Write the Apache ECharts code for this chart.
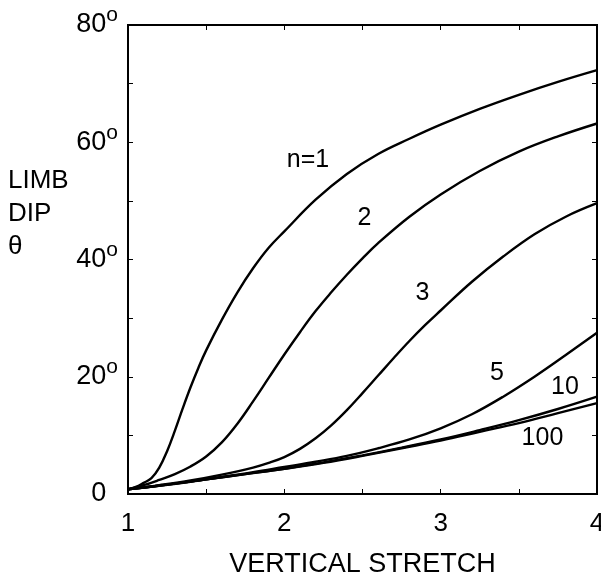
<!DOCTYPE html>
<html>
<head>
<meta charset="utf-8">
<script src="https://cdn.jsdelivr.net/npm/echarts@6/dist/echarts.min.js"></script>
<style>
html,body{margin:0;padding:0;background:#fff;}
#c{width:601px;height:573px;}
</style>
</head>
<body>
<div id="c"></div>
<script>
// Vertical stretch values and limb dip (degrees) for each n
const n1 = [[1.0,0.8],[1.05,1.2],[1.1,1.9],[1.15,2.7],[1.2,4.5],[1.25,7.3],[1.3,10.8],[1.35,14.6],[1.4,18.2],[1.45,21.5],[1.5,24.5],[1.6,29.7],[1.7,34.4],[1.8,38.5],[1.9,42.0],[2.0,44.8],[2.2,50.2],[2.4,54.6],[2.6,58.0],[2.8,60.6],[3.0,63.0],[3.25,65.7],[3.5,68.1],[3.75,70.3],[4.0,72.3]];
const n2 = [[1.0,0.8],[1.1,1.5],[1.2,2.4],[1.3,3.4],[1.4,4.7],[1.5,6.4],[1.6,8.8],[1.7,12.0],[1.8,15.8],[1.9,19.8],[2.0,23.8],[2.1,27.6],[2.2,31.2],[2.3,34.4],[2.4,37.4],[2.5,40.2],[2.6,42.8],[2.8,47.3],[3.0,51.1],[3.25,55.1],[3.5,58.4],[3.75,61.0],[4.0,63.2]];
const n3 = [[1.0,0.8],[1.2,1.5],[1.4,2.3],[1.6,3.3],[1.8,4.5],[1.9,5.3],[2.0,6.3],[2.1,7.7],[2.2,9.5],[2.3,11.7],[2.4,14.3],[2.5,17.2],[2.6,20.2],[2.7,23.2],[2.8,26.1],[2.9,28.8],[3.0,31.3],[3.2,36.2],[3.4,40.5],[3.6,44.3],[3.8,47.3],[4.0,49.6]];
const n5 = [[1.0,0.8],[1.2,1.4],[1.4,2.1],[1.6,2.9],[1.8,3.7],[2.0,4.6],[2.2,5.5],[2.4,6.5],[2.6,7.8],[2.8,9.3],[3.0,11.2],[3.2,13.6],[3.4,16.6],[3.6,20.0],[3.8,23.7],[4.0,27.5]];
const n10 = [[1.0,0.8],[1.25,1.6],[1.5,2.5],[1.75,3.4],[2.0,4.3],[2.25,5.4],[2.5,6.6],[2.75,7.9],[3.0,9.3],[3.25,10.9],[3.5,12.6],[3.75,14.5],[4.0,16.6]];
const n100 = [[1.0,0.8],[1.25,1.6],[1.5,2.5],[1.75,3.4],[2.0,4.3],[2.25,5.3],[2.5,6.5],[2.75,7.8],[3.0,9.1],[3.25,10.6],[3.5,12.1],[3.75,13.8],[4.0,15.5]];
const curveLabels = [["n=1",2.151,57.0],["2",2.513,47.0],["3",2.884,34.2],["5",3.360,20.6],["10",3.795,18.3],["100",3.651,9.6]];
const xTickLabels = {1:"1",2:"2",3:"3",4:"4"};
const yTickLabels = {0:"0",20:"20",40:"40",60:"60",80:"80"};

const FONT = "Liberation Sans, Arial, sans-serif";
const chart = echarts.init(document.getElementById('c'), null, {renderer:'canvas'});

function mk(data){
  return {type:'line', data:data, smooth:0.4, showSymbol:false, symbol:'none',
          lineStyle:{color:'#000', width:2.4}, silent:true, z:3, xAxisIndex:0, yAxisIndex:0};
}
function frame(){
  return {
    axisLine:{show:true, onZero:false, lineStyle:{color:'#000', width:2}},
    axisTick:{show:true, inside:true, length:5, lineStyle:{color:'#000', width:1}},
    splitLine:{show:false}
  };
}

chart.setOption({
  animation:false,
  backgroundColor:'#fff',
  grid:{left:128, right:4, top:25, bottom:79, containLabel:false, outerBoundsMode:'none',
        show:true, borderColor:'#000', borderWidth:2, backgroundColor:'transparent'},
  xAxis:[
    Object.assign({type:'value', min:1, max:4, interval:0.5, position:'bottom',
      axisLabel:{show:true, margin:17, color:'#000', fontFamily:FONT, fontSize:26,
        formatter:v => xTickLabels[v] !== undefined ? xTickLabels[v] : ''},
      name:'VERTICAL STRETCH', nameLocation:'middle', nameGap:57,
      nameTextStyle:{color:'#000', fontFamily:FONT, fontSize:27}
    }, frame()),
    Object.assign({type:'value', min:1, max:4, interval:0.5, position:'top',
      axisLabel:{show:false}}, frame())
  ],
  yAxis:[
    Object.assign({type:'value', min:0, max:80, interval:10, position:'left',
      axisLabel:{show:true, margin:10, color:'#000', fontFamily:FONT,
        formatter:v => {
          const t = yTickLabels[v];
          if (t === undefined) return '';
          return v === 0 ? '{n|' + t + '}{h|o}' : '{n|' + t + '}{s|o}';
        },
        rich:{
          n:{fontSize:27, lineHeight:40, fontFamily:FONT, color:'#000'},
          s:{fontSize:21, lineHeight:19, fontFamily:FONT, color:'#000', verticalAlign:'top'},
          h:{fontSize:21, lineHeight:19, fontFamily:FONT, color:'rgba(0,0,0,0)', verticalAlign:'top'}
        }}
    }, frame()),
    Object.assign({type:'value', min:0, max:80, interval:10, position:'right',
      axisLabel:{show:false}}, frame())
  ],
  graphic:[{
    type:'text', left:8, top:164,
    style:{text:'LIMB\nDIP\nθ', font:'26px ' + FONT, fill:'#000', lineHeight:33}
  }],
  series:[
    mk(n1), mk(n2), mk(n3), mk(n5), mk(n10), mk(n100),
    {type:'scatter', symbolSize:0, silent:true, z:4,
     itemStyle:{color:'#000', opacity:1},
     data:curveLabels.map(d => ({name:d[0], value:[d[1], d[2]]})),
     label:{show:true, position:'inside', formatter:p => p.name, color:'#000', opacity:1,
            textBorderWidth:0, textBorderColor:'transparent',
            fontFamily:FONT, fontSize:25}}
  ]
});
</script>
</body>
</html>
